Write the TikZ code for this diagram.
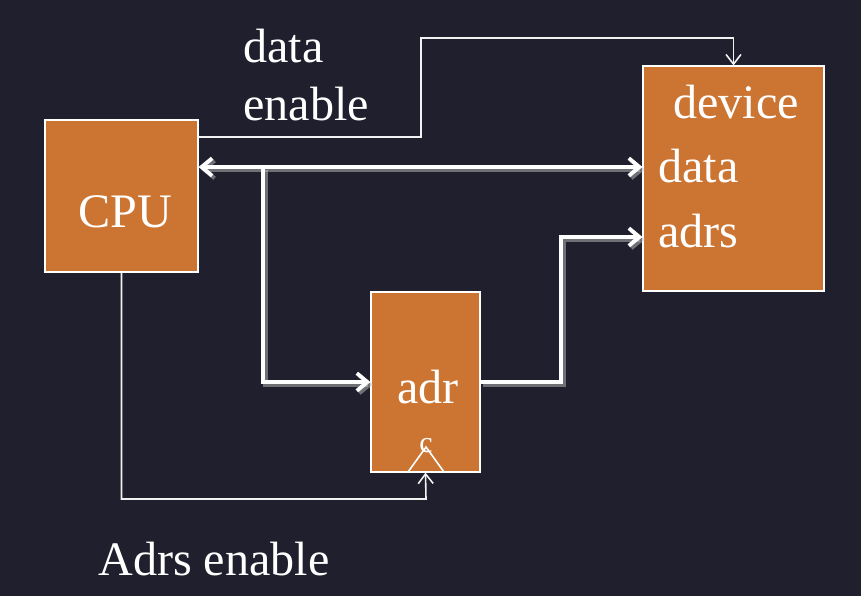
\documentclass[tikz,border=0pt]{standalone}
\usepackage{fontspec}
\setmainfont{Liberation Serif}
\usetikzlibrary{arrows.meta}

\definecolor{bg}{HTML}{1F1F2E}
\definecolor{box}{HTML}{CC7532}

\tikzset{
  blk/.style={draw=white,line width=0.7pt,fill=box,inner sep=0pt},
  lbl/.style={anchor=base west,inner sep=0pt,text=white,font=\fontsize{27.4}{32}\selectfont},
  ctl/.style={draw=white!90!gray,line width=0.9pt,-{Straight Barb[length=5.5pt,width=8.5pt]}},
  bus/.style={draw=white,line width=2.2pt,line join=miter,
    preaction={draw=gray!50,opacity=0.5,line width=3.4pt,
      transform canvas={shift={(0.05cm,-0.05cm)}}}},
  bustip/.tip={Straight Barb[length=6pt,width=10pt,line width=2.2pt]}
}

\begin{document}
\begin{tikzpicture}[x=0.02cm,y=-0.02cm]
\fill[bg] (0,0) rectangle (861,596);
\useasboundingbox (0,0) rectangle (861,596);

% boxes
\node[blk,minimum width=3.06cm,minimum height=3.04cm] (cpu) at (121.5,196) {};
\node[blk,minimum width=3.62cm,minimum height=4.5cm] (dev) at (733.5,178.5) {};
\node[blk,minimum width=2.18cm,minimum height=3.6cm] (adr) at (425.5,382) {};

% texts
\node[lbl] (cputxt) at (78,227) {CPU};
\node[lbl] (devtxt) at (673,118) {device};
\node[lbl] (devdata) at (658,182) {data};
\node[lbl] (devadrs) at (658,247) {adrs};
\node[lbl] (adrtxt) at (397,403) {adr};
\node[lbl] (de1) at (243,62) {data};
\node[lbl] (de2) at (243,120) {enable};
\node[lbl] (ae) at (98,575) {Adrs enable};

% clock input
\draw[white,line width=0.9pt] (408,472) -- (426,447) -- (444,472);
\node[text=white,inner sep=0pt,font=\fontsize{17}{20}\selectfont] (clk) at (426,446) {c};

% bus
\coordinate (tap) at (263,167);
\coordinate (jog) at (561,237);
\draw[bus,bustip-bustip] (cpu.east |- tap) -- (dev.west |- tap);
\draw[bus,-bustip] (tap) |- (adr.west);
\draw[bus,-bustip] (adr.east) -| (jog) -- (dev.west |- jog);

% control lines
\coordinate (deb) at (421,137);
\coordinate (det) at (421,38);
\coordinate (aeb) at (426,499);
\draw[ctl] (cpu.east |- deb) -- (deb) -- (det) -| (dev.north);
\draw[ctl] (cpu.south) |- (aeb) -- (adr.south);
\end{tikzpicture}
\end{document}
